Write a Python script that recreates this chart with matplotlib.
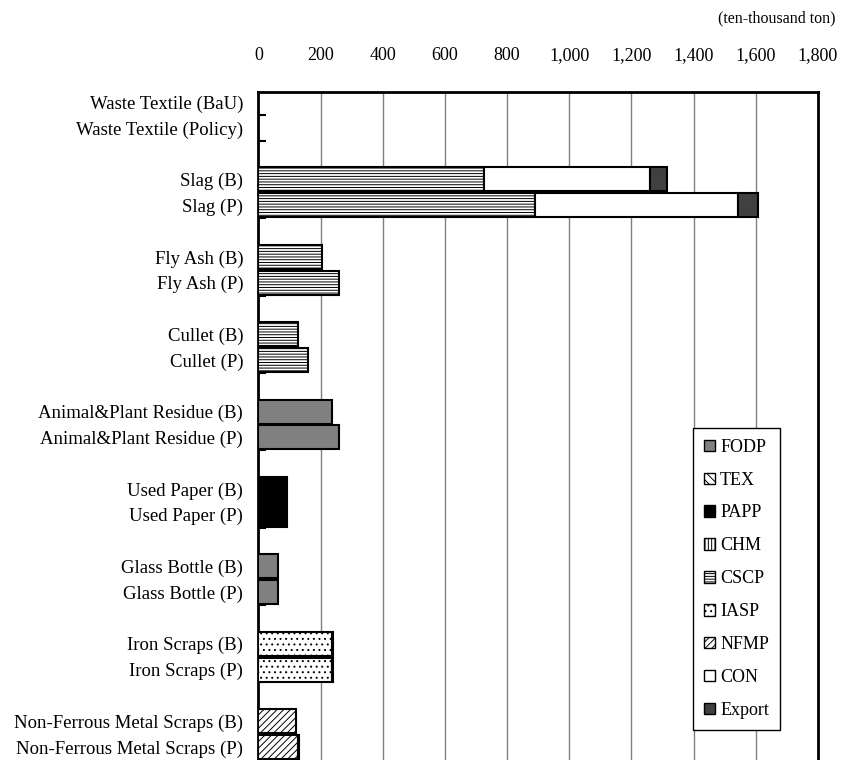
import numpy as np
import matplotlib.pyplot as plt
from matplotlib.patches import Patch
from matplotlib.ticker import FuncFormatter

plt.rcParams['font.family'] = ['Liberation Serif', 'DejaVu Serif']
plt.rcParams['hatch.linewidth'] = 0.7

# Data (ten-thousand ton)
labels = ["Waste Textile (BaU)", "Waste Textile (Policy)",
          "Slag (B)", "Slag (P)",
          "Fly Ash (B)", "Fly Ash (P)",
          "Cullet (B)", "Cullet (P)",
          "Animal&Plant Residue (B)", "Animal&Plant Residue (P)",
          "Used Paper (B)", "Used Paper (P)",
          "Glass Bottle (B)", "Glass Bottle (P)",
          "Iron Scraps (B)", "Iron Scraps (P)",
          "Non-Ferrous Metal Scraps (B)", "Non-Ferrous Metal Scraps (P)"]
fodp = [0, 0, 0, 0, 0, 0, 0, 0, 236, 259, 0, 0, 62, 62, 0, 0, 0, 0]
tex = [0] * 18
papp = [0, 0, 0, 0, 0, 0, 0, 0, 0, 0, 92, 92, 0, 0, 0, 0, 0, 0]
chm = [0] * 18
cscp = [0, 0, 727, 889, 205, 259, 127, 160, 0, 0, 0, 0, 0, 0, 0, 0, 0, 0]
iasp = [0, 0, 0, 0, 0, 0, 0, 0, 0, 0, 0, 0, 0, 0, 235, 235, 0, 0]
nfmp = [0, 0, 0, 0, 0, 0, 0, 0, 0, 0, 0, 0, 0, 0, 0, 0, 121, 127]
con = [0, 0, 533, 653, 0, 0, 0, 0, 0, 0, 0, 0, 0, 0, 0, 0, 0, 0]
export = [0, 0, 53, 66, 0, 0, 0, 0, 0, 0, 0, 0, 0, 0, 4, 4, 0, 3]
series_names = ["FODP", "TEX", "PAPP", "CHM", "CSCP", "IASP", "NFMP", "CON", "Export"]
series_vals = [fodp, tex, papp, chm, cscp, iasp, nfmp, con, export]

styles = {
    "FODP": dict(facecolor="#808080"),
    "TEX": dict(facecolor="white", hatch="\\\\\\\\"),
    "PAPP": dict(facecolor="black"),
    "CHM": dict(facecolor="white", hatch="|||||"),
    "CSCP": dict(facecolor="white", hatch="------"),
    "IASP": dict(facecolor="white", hatch="..."),
    "NFMP": dict(facecolor="white", hatch="/////"),
    "CON": dict(facecolor="white"),
    "Export": dict(facecolor="#404040"),
}

# two bars per material, then an empty row
ypos = np.array([3 * (i // 2) + i % 2 for i in range(len(labels))])

fig = plt.figure(figsize=(8.43, 7.6), dpi=100)
ax = fig.add_axes([0.3066, -0.0066, 0.6637, 0.8855])

left = np.zeros(len(labels))
for name, vals in zip(series_names, series_vals):
    vals = np.array(vals, dtype=float)
    m = vals > 0
    if m.any():
        ax.barh(ypos[m], vals[m], left=left[m], height=0.93,
                edgecolor="black", linewidth=1.5, zorder=3, **styles[name])
    left += vals

ax.set_xlim(0, 1800)
ax.set_ylim(25.7, -0.39)
ax.set_xticks(np.arange(0, 1801, 200))
ax.xaxis.set_major_formatter(FuncFormatter(lambda v, p: "{:,.0f}".format(v)))
ax.xaxis.tick_top()
ax.tick_params(axis="x", length=0, pad=20, labelsize=13)

ax.set_yticks(ypos)
ax.set_yticklabels(labels, fontsize=13.5)
ax.set_yticks(ypos + 0.5, minor=True)
ax.tick_params(axis="y", which="major", length=0, pad=11)
ax.tick_params(axis="y", which="minor", direction="in", length=6,
               width=1.5, color="black")

ax.grid(axis="x", color="#808080", linewidth=1, zorder=1)
for s in ax.spines.values():
    s.set_linewidth(2)
    s.set_color("black")

handles = [Patch(edgecolor="black", linewidth=1, label=n, **styles[n])
           for n in series_names]
leg = fig.legend(handles=handles, loc="upper left",
                 bbox_to_anchor=(0.822, 0.437), bbox_transform=fig.transFigure,
                 frameon=True, fancybox=False, edgecolor="black", framealpha=1,
                 fontsize=13, handlelength=0.6, handleheight=0.6,
                 handletextpad=0.3, labelspacing=0.88, borderpad=0.6,
                 borderaxespad=0)
leg.get_frame().set_linewidth(1)
leg.set_zorder(5)

fig.text(836 / 843, 1 - 18 / 760, "(ten-thousand ton)", ha="right",
         va="center", fontsize=11.5)

fig.savefig("out.png", dpi=100)
